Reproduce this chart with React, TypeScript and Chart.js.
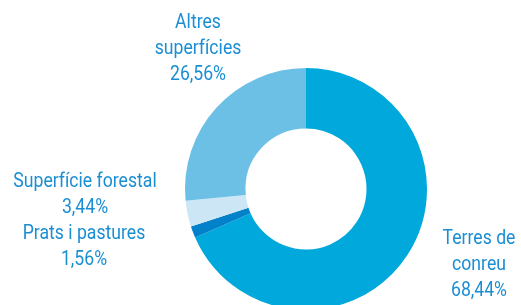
import React, { useEffect, useRef } from "react";
import { Chart, registerables } from "chart.js";

Chart.register(...registerables);

const categories = ["Terres de conreu", "Prats i pastures", "Superfície forestal", "Altres superfícies"];
const values = [68.44, 1.56, 3.44, 26.56];
const colors = ["#00a8db", "#0081c9", "#cde6f6", "#6cc0e5"];
const labelLines = [
  ["Terres de", "conreu"],
  ["Prats i pastures"],
  ["Superfície forestal"],
  ["Altres", "superfícies"],
];
// label anchor (center x, first line y) per category
const labelPos = [
  [479, 239],
  [84, 234],
  [85, 182],
  [198, 23],
];

const fmt = (v: number) => v.toFixed(2).replace(".", ",") + "%";

const labelPlugin = {
  id: "labels",
  afterDraw(chart: any) {
    const ctx = chart.ctx;
    const sx = 0.84;
    ctx.save();
    ctx.fillStyle = "#1a8ed3";
    ctx.font = "21px Roboto, sans-serif";
    ctx.textAlign = "center";
    ctx.textBaseline = "middle";
    ctx.scale(sx, 1);
    const lh = 25.7;
    categories.forEach((_, i) => {
      const lines = [...labelLines[i], fmt(values[i])];
      const [x, y] = labelPos[i];
      lines.forEach((t, j) => ctx.fillText(t, x / sx, y + j * lh));
    });
    ctx.restore();
  },
};

export default function App() {
  const ref = useRef<HTMLCanvasElement>(null);
  useEffect(() => {
    const chart = new Chart(ref.current!, {
      type: "doughnut",
      data: {
        labels: categories,
        datasets: [{ data: values, backgroundColor: colors, borderWidth: 0 }],
      },
      options: {
        animation: false,
        responsive: false,
        cutout: "50%",
        layout: { padding: { left: 185, right: 94, top: 68, bottom: 0 } },
        plugins: { legend: { display: false }, tooltip: { enabled: false } },
      },
      plugins: [labelPlugin],
    });
    return () => chart.destroy();
  }, []);
  return (
    <div style={{ position: "fixed", left: 0, top: 0, width: 521, height: 310, background: "#fff" }}>
      <canvas ref={ref} width={521} height={310} style={{ width: 521, height: 310 }} />
    </div>
  );
}
